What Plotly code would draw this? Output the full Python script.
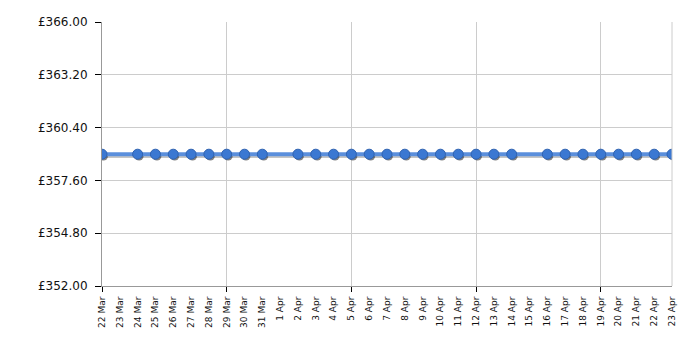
import plotly.graph_objects as go
import pandas as pd

dates = ["2021-03-22", "2021-03-24", "2021-03-25", "2021-03-26", "2021-03-27", "2021-03-28",
         "2021-03-29", "2021-03-30", "2021-03-31", "2021-04-02", "2021-04-03", "2021-04-04",
         "2021-04-05", "2021-04-06", "2021-04-07", "2021-04-08", "2021-04-09", "2021-04-10",
         "2021-04-11", "2021-04-12", "2021-04-13", "2021-04-14", "2021-04-16", "2021-04-17",
         "2021-04-18", "2021-04-19", "2021-04-20", "2021-04-21", "2021-04-22", "2021-04-23"]
prices = [358.99] * len(dates)

all_days = pd.date_range("2021-03-22", "2021-04-23", freq="D")
tick_text = [f"{d.day} {d.strftime('%b')}" for d in all_days]

d = pd.to_datetime(dates)
# shadow offset (small visual offset, derived from data)
shadow_x = d + pd.Timedelta(hours=2)
shadow_y = [p - 0.1 for p in prices]

fig = go.Figure()
fig.add_trace(go.Scatter(x=shadow_x, y=shadow_y, mode="lines+markers",
                         line=dict(color="rgba(90,90,90,0.35)", width=4),
                         marker=dict(size=9, color="rgba(30,30,30,0.55)"),
                         hoverinfo="skip", showlegend=False))
fig.add_trace(go.Scatter(x=d, y=prices, mode="lines+markers",
                         line=dict(color="#5b8fdc", width=4),
                         marker=dict(size=10, color="#3b78d2",
                                     line=dict(color="#2f62b0", width=1)),
                         showlegend=False))

fig.update_layout(
    width=700, height=350,
    margin=dict(l=102, r=28, t=22, b=64),
    paper_bgcolor="white", plot_bgcolor="white",
    font=dict(family="DejaVu Sans, Verdana, sans-serif", color="#111"),
)
fig.update_xaxes(
    type="date",
    range=["2021-03-22", "2021-04-23"],
    tickvals=all_days, ticktext=tick_text, tickangle=-90,
    tickfont=dict(size=9, color="#111"),
    ticks="", showgrid=False, ticklabelstandoff=6,
    showline=True, linecolor="#999", linewidth=1, mirror=False,
    minor=dict(dtick=7 * 86400000, tick0="2021-03-22", showgrid=True,
               gridcolor="#cccccc", gridwidth=1, ticks="outside", ticklen=5,
               tickcolor="#000"),
    zeroline=False,
)
fig.update_yaxes(
    range=[352, 366], dtick=2.8, tick0=352,
    tickprefix="£", tickformat=".2f",
    tickfont=dict(size=12, color="#111"),
    ticks="outside", ticklen=6, tickcolor="#000", ticklabelstandoff=5,
    showgrid=True, gridcolor="#cccccc", gridwidth=1,
    showline=True, linecolor="#999", linewidth=1,
    zeroline=False,
)
fig.add_shape(type="line", xref="paper", yref="paper", x0=1, x1=1, y0=0, y1=1,
              line=dict(color="#cccccc", width=1))

fig.write_html("out.html")
